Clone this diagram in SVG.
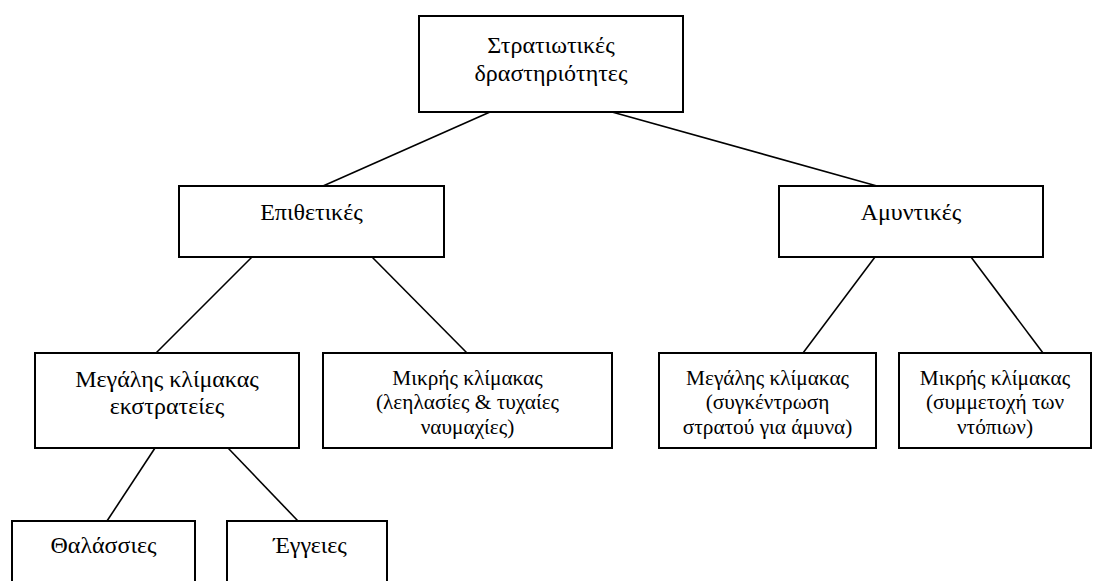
<svg xmlns="http://www.w3.org/2000/svg" width="1096" height="581" viewBox="0 0 1096 581">
<style>
rect{fill:#fff;stroke:#000;stroke-width:2}
line{stroke:#000;stroke-width:1.6}
text{font-family:'Liberation Serif','DejaVu Serif',serif;fill:#000;text-anchor:middle}
.l{font-size:24px}
.s{font-size:21.3px}
</style>
<rect x="0" y="0" width="1096" height="581" style="fill:#fff;stroke:none"/>
<g id="connectors">
<line x1="490" y1="112" x2="323" y2="186"/>
<line x1="612" y1="112" x2="877" y2="186"/>
<line x1="252" y1="257" x2="156" y2="353"/>
<line x1="372" y1="257" x2="467" y2="353"/>
<line x1="875" y1="257" x2="803" y2="353"/>
<line x1="971" y1="257" x2="1043" y2="353"/>
<line x1="155" y1="448" x2="107" y2="521"/>
<line x1="228" y1="448" x2="298" y2="521"/>
</g>
<g id="n-strat"><rect x="419" y="16" width="264" height="96"/><text class="l" x="551" y="53">Στρατιωτικές</text><text class="l" x="551" y="81">δραστηριότητες</text></g>
<g id="n-epith"><rect x="179" y="186" width="265" height="71"/><text class="l" x="311.5" y="220">Επιθετικές</text></g>
<g id="n-amynt"><rect x="779" y="186" width="264" height="71"/><text class="l" x="911" y="220">Αμυντικές</text></g>
<g id="n-megex"><rect x="35" y="353" width="264" height="95"/><text class="l" x="167" y="387">Μεγάλης κλίμακας</text><text class="l" x="167" y="414">εκστρατείες</text></g>
<g id="n-mikleil"><rect x="323" y="353" width="289" height="95"/><text class="s" x="467.5" y="385">Μικρής κλίμακας</text><text class="s" x="467.5" y="409">(λεηλασίες &amp; τυχαίες</text><text class="s" x="467.5" y="434">ναυμαχίες)</text></g>
<g id="n-megsyn"><rect x="659" y="353" width="217" height="95"/><text class="s" x="767.5" y="385">Μεγάλης κλίμακας</text><text class="s" x="767.5" y="409">(συγκέντρωση</text><text class="s" x="767.5" y="434">στρατού για άμυνα)</text></g>
<g id="n-miksym"><rect x="899" y="353" width="192" height="95"/><text class="s" x="995" y="385">Μικρής κλίμακας</text><text class="s" x="995" y="409">(συμμετοχή των</text><text class="s" x="995" y="434">ντόπιων)</text></g>
<g id="n-thal"><rect x="12" y="521" width="183" height="90"/><text class="l" x="103.5" y="553">Θαλάσσιες</text></g>
<g id="n-egg"><rect x="227" y="521" width="160" height="90"/><text class="l" x="310" y="553">Έγγειες</text></g>
</svg>
